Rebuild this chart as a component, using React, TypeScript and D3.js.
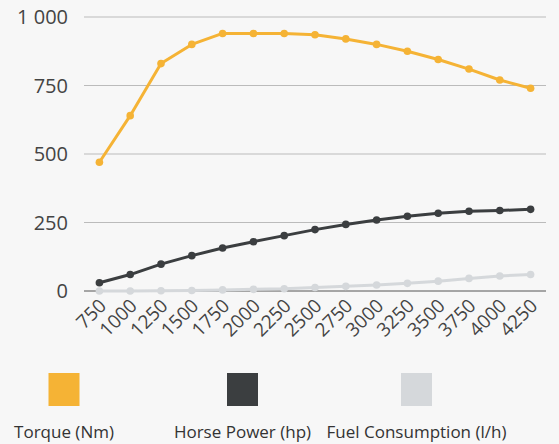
import React from "react";
import * as d3 from "d3";

const rpm = [750, 1000, 1250, 1500, 1750, 2000, 2250, 2500, 2750, 3000, 3250, 3500, 3750, 4000, 4250];
const torque = [470, 640, 830, 900, 940, 940, 940, 935, 920, 900, 875, 845, 810, 770, 740];
const horsePower = [30, 60, 98, 129, 157, 180, 202, 224, 243, 259, 273, 284, 291, 294, 298];
const fuel = [0, 0, 1, 2, 4, 6, 8, 13, 17, 22, 28, 36, 46, 55, 60];
const yTicks = [0, 250, 500, 750, 1000];
const seriesNames = ["Torque (Nm)", "Horse Power (hp)", "Fuel Consumption (l/h)"];
const seriesColors = ["#f5b335", "#3b3e40", "#d5d8db"];

const W = 559, H = 444;
const FONT = "'Open Sans', sans-serif";

export default function App() {
  const x = d3.scaleBand<number>().domain(rpm).range([84, 546]);
  const cx = (v: number) => (x(v) as number) + x.bandwidth() / 2;
  const y = d3.scaleLinear().domain([0, 1000]).range([291, 17]);
  const fmt = (v: number) => d3.format(",")(v).replace(/,/g, " ");
  const series = [torque, horsePower, fuel];
  const line = d3.line<number>().x((_, i) => cx(rpm[i])).y((d) => y(d));
  const legendCenters = [64, 242.5, 416.5];
  const order = [2, 1, 0];
  return (
    <svg width={W} height={H} style={{ position: "fixed", left: 0, top: 0, background: "#f7f7f7" }} fontFamily={FONT}>
      <rect x={0} y={0} width={W} height={H} fill="#f7f7f7" />
      {yTicks.map((t) => (
        <g key={t}>
          <line x1={84} x2={546} y1={y(t)} y2={y(t)} stroke={t === 0 ? "#555" : "#bbb"} strokeWidth={1} />
          <text x={68} y={y(t)} dy="0.35em" textAnchor="end" fontSize={20} fill="#444">{fmt(t)}</text>
        </g>
      ))}
      {rpm.map((r) => (
        <text key={r} transform={`translate(${cx(r) + 8},${y(0) + 16}) rotate(-45)`} textAnchor="end" fontSize={19} fill="#444">{r}</text>
      ))}
      {order.map((si) => (
        <g key={si}>
          <path d={line(series[si]) as string} fill="none" stroke={seriesColors[si]} strokeWidth={3} strokeLinejoin="round" />
          {series[si].map((v, i) => (
            <circle key={i} cx={cx(rpm[i])} cy={y(v)} r={3.8} fill={seriesColors[si]} />
          ))}
        </g>
      ))}
      {seriesNames.map((n, i) => (
        <g key={n}>
          <rect x={legendCenters[i] - 15.5} y={373} width={31} height={33} fill={seriesColors[i]} />
          <text x={legendCenters[i]} y={438} textAnchor="middle" fontSize={17} fill="#333">{n}</text>
        </g>
      ))}
    </svg>
  );
}
